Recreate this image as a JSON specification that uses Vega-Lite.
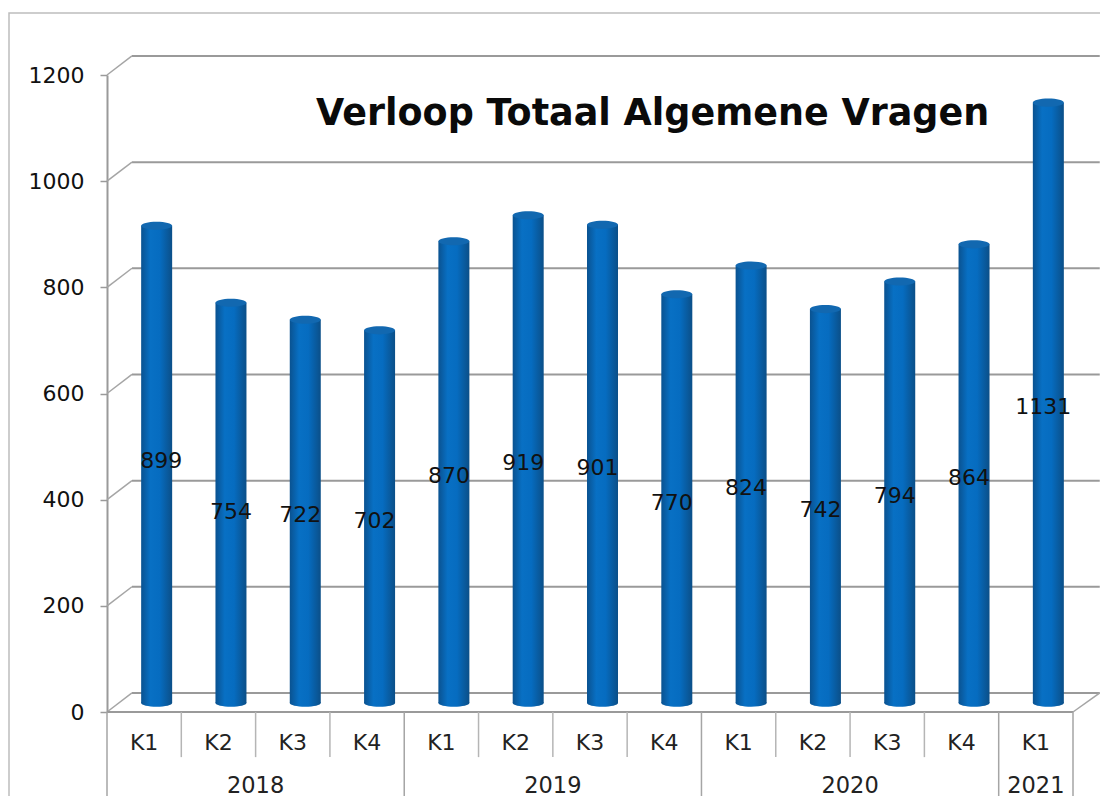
{"$schema":"https://vega.github.io/schema/vega-lite/v6.json","autosize":"none","padding":{"left":9,"top":13,"right":0,"bottom":0},"width":1096,"height":788,"background":"white","view":{"stroke":"#bdbdbd","strokeWidth":1.5,"fill":"white"},"title":{"text":"Verloop Totaal Algemene Vragen","anchor":"start","frame":"group","dx":307,"dy":123,"font":"DejaVu Sans","fontSize":36.5,"fontWeight":"bold","color":"#0a0a0a"},"datasets":{"kwartalen":[{"kwartaal":"2018 K1","k":"K1","waarde":899},{"kwartaal":"2018 K2","k":"K2","waarde":754},{"kwartaal":"2018 K3","k":"K3","waarde":722},{"kwartaal":"2018 K4","k":"K4","waarde":702},{"kwartaal":"2019 K1","k":"K1","waarde":870},{"kwartaal":"2019 K2","k":"K2","waarde":919},{"kwartaal":"2019 K3","k":"K3","waarde":901},{"kwartaal":"2019 K4","k":"K4","waarde":770},{"kwartaal":"2020 K1","k":"K1","waarde":824},{"kwartaal":"2020 K2","k":"K2","waarde":742},{"kwartaal":"2020 K3","k":"K3","waarde":794},{"kwartaal":"2020 K4","k":"K4","waarde":864},{"kwartaal":"2021 K1","k":"K1","waarde":1131}],"niveaus":[{"niveau":0,"achter":36},{"niveau":200,"achter":236},{"niveau":400,"achter":436},{"niveau":600,"achter":636},{"niveau":800,"achter":836},{"niveau":1000,"achter":1036},{"niveau":1200,"achter":1236}],"jaren":[{"jaar":"2018","midden":2},{"jaar":"2019","midden":6},{"jaar":"2020","midden":10},{"jaar":"2021","midden":12.5}],"grenzen":[{"grens":0,"soort":"jaar"},{"grens":1,"soort":"kwartaal"},{"grens":2,"soort":"kwartaal"},{"grens":3,"soort":"kwartaal"},{"grens":4,"soort":"jaar"},{"grens":5,"soort":"kwartaal"},{"grens":6,"soort":"kwartaal"},{"grens":7,"soort":"kwartaal"},{"grens":8,"soort":"jaar"},{"grens":9,"soort":"kwartaal"},{"grens":10,"soort":"kwartaal"},{"grens":11,"soort":"kwartaal"},{"grens":12,"soort":"jaar"},{"grens":13,"soort":"jaar"}]},"resolve":{"scale":{"x":"independent","y":"independent"},"axis":{"x":"independent","y":"independent"}},"layer":[{"data":{"name":"niveaus"},"mark":{"type":"rule","color":"#9a9a9a","strokeWidth":2},"encoding":{"x":{"datum":0.336,"type":"quantitative","scale":{"domain":[0,13],"range":[98,1064]},"axis":null},"x2":{"datum":13.36},"y":{"field":"niveau","type":"quantitative","scale":{"domain":[0,1200],"range":[680,43]},"axis":null}}},{"data":{"name":"niveaus"},"mark":{"type":"rule","color":"#a5a5a5","strokeWidth":1.5},"encoding":{"x":{"datum":0,"type":"quantitative","scale":{"domain":[0,13],"range":[98,1064]},"axis":null},"x2":{"datum":0.336},"y":{"field":"niveau","type":"quantitative","scale":{"domain":[0,1200],"range":[699,62]},"axis":{"values":[0,200,400,600,800,1000,1200],"format":"d","offset":-98,"orient":"left","title":null,"grid":false,"domainColor":"#9a9a9a","domainWidth":2,"tickColor":"#9a9a9a","tickWidth":1.5,"tickSize":7,"labelFont":"DejaVu Sans","labelFontSize":22,"labelColor":"#111111","labelPadding":16}},"y2":{"field":"achter"}}},{"data":{"values":[{"niveau":0,"achter":36}]},"mark":{"type":"rule","color":"#a5a5a5","strokeWidth":1.5},"encoding":{"x":{"datum":13,"type":"quantitative","scale":{"domain":[0,13],"range":[98,1064]},"axis":null},"x2":{"datum":13.36},"y":{"field":"niveau","type":"quantitative","scale":{"domain":[0,1200],"range":[699,62]},"axis":null},"y2":{"field":"achter"}}},{"data":{"values":[{"niveau":0}]},"mark":{"type":"rule","color":"#9a9a9a","strokeWidth":2},"encoding":{"x":{"datum":0,"type":"quantitative","scale":{"domain":[0,13],"range":[98,1064]},"axis":null},"x2":{"datum":13},"y":{"field":"niveau","type":"quantitative","scale":{"domain":[0,1200],"range":[699,62]},"axis":null}}},{"data":{"name":"grenzen"},"transform":[{"filter":"datum.soort==='kwartaal'"}],"mark":{"type":"rule","color":"#b5b5b5","strokeWidth":1.5},"encoding":{"x":{"field":"grens","type":"quantitative","scale":{"domain":[0,13],"range":[98,1064]},"axis":null},"y":{"datum":0,"type":"quantitative","scale":{"domain":[0,1200],"range":[699,62]},"axis":null},"y2":{"datum":-85}}},{"data":{"name":"grenzen"},"transform":[{"filter":"datum.soort==='jaar'"}],"mark":{"type":"rule","color":"#a5a5a5","strokeWidth":1.5},"encoding":{"x":{"field":"grens","type":"quantitative","scale":{"domain":[0,13],"range":[98,1064]},"axis":null},"y":{"datum":0,"type":"quantitative","scale":{"domain":[0,1200],"range":[699,62]},"axis":null},"y2":{"datum":-160}}},{"data":{"name":"kwartalen"},"mark":{"type":"text","font":"DejaVu Sans","fontSize":22,"color":"#222222","baseline":"middle"},"encoding":{"x":{"field":"kwartaal","type":"nominal","scale":{"type":"band","range":[98,1064],"paddingInner":0,"paddingOuter":0},"sort":null,"axis":null},"y":{"datum":-58,"type":"quantitative","scale":{"domain":[0,1200],"range":[699,62]},"axis":null},"text":{"field":"k"}}},{"data":{"name":"jaren"},"mark":{"type":"text","font":"DejaVu Sans","fontSize":22.5,"color":"#222222","baseline":"middle"},"encoding":{"x":{"field":"midden","type":"quantitative","scale":{"domain":[0,13],"range":[98,1064]},"axis":null},"y":{"datum":-139,"type":"quantitative","scale":{"domain":[0,1200],"range":[699,62]},"axis":null},"text":{"field":"jaar"}}},{"data":{"name":"kwartalen"},"mark":{"type":"bar","width":31,"fill":{"gradient":"linear","x1":0,"x2":1,"y1":0,"y2":0,"stops":[{"offset":0,"color":"#0a5290"},{"offset":0.3,"color":"#0870c4"},{"offset":0.6,"color":"#066cc0"},{"offset":1,"color":"#0b4f88"}]}},"encoding":{"x":{"field":"kwartaal","type":"nominal","scale":{"type":"band","range":[110.5,1076.5],"paddingInner":0,"paddingOuter":0},"sort":null,"axis":null},"y":{"field":"waarde","type":"quantitative","scale":{"domain":[0,1200],"range":[690,53]},"axis":null}}},{"data":{"name":"kwartalen"},"mark":{"type":"point","filled":true,"opacity":1,"size":961,"shape":"M-1,0A1,0.24,0,1,1,1,0A1,0.24,0,1,1,-1,0Z","fill":{"gradient":"linear","x1":0,"x2":1,"y1":0,"y2":0,"stops":[{"offset":0,"color":"#0a5290"},{"offset":0.3,"color":"#0870c4"},{"offset":0.6,"color":"#066cc0"},{"offset":1,"color":"#0b4f88"}]}},"encoding":{"x":{"field":"kwartaal","type":"nominal","scale":{"type":"band","range":[110.5,1076.5],"paddingInner":0,"paddingOuter":0},"sort":null,"axis":null},"y":{"datum":0,"type":"quantitative","scale":{"domain":[0,1200],"range":[690,53]},"axis":null}}},{"data":{"name":"kwartalen"},"mark":{"type":"point","filled":true,"opacity":1,"size":961,"shape":"M-1,0A1,0.26,0,1,1,1,0A1,0.26,0,1,1,-1,0Z","fill":"#1268b0"},"encoding":{"x":{"field":"kwartaal","type":"nominal","scale":{"type":"band","range":[110.5,1076.5],"paddingInner":0,"paddingOuter":0},"sort":null,"axis":null},"y":{"field":"waarde","type":"quantitative","scale":{"domain":[0,1200],"range":[690,53]},"axis":null}}},{"data":{"name":"kwartalen"},"mark":{"type":"text","font":"DejaVu Sans","fontSize":22,"color":"#111111","baseline":"middle","dx":{"expr":"datum.kwartaal==='2018 K1'?4.5:datum.kwartaal==='2018 K2'?0:-5"},"dy":{"expr":"datum.kwartaal==='2018 K1'?-7:datum.kwartaal==='2018 K2'?5:0"}},"encoding":{"x":{"field":"kwartaal","type":"nominal","scale":{"type":"band","range":[110.5,1076.5],"paddingInner":0,"paddingOuter":0},"sort":null,"axis":null},"y":{"field":"waarde","type":"quantitative","scale":{"domain":[0,1200],"range":[694,375.5]},"axis":null},"text":{"field":"waarde"}}}]}
